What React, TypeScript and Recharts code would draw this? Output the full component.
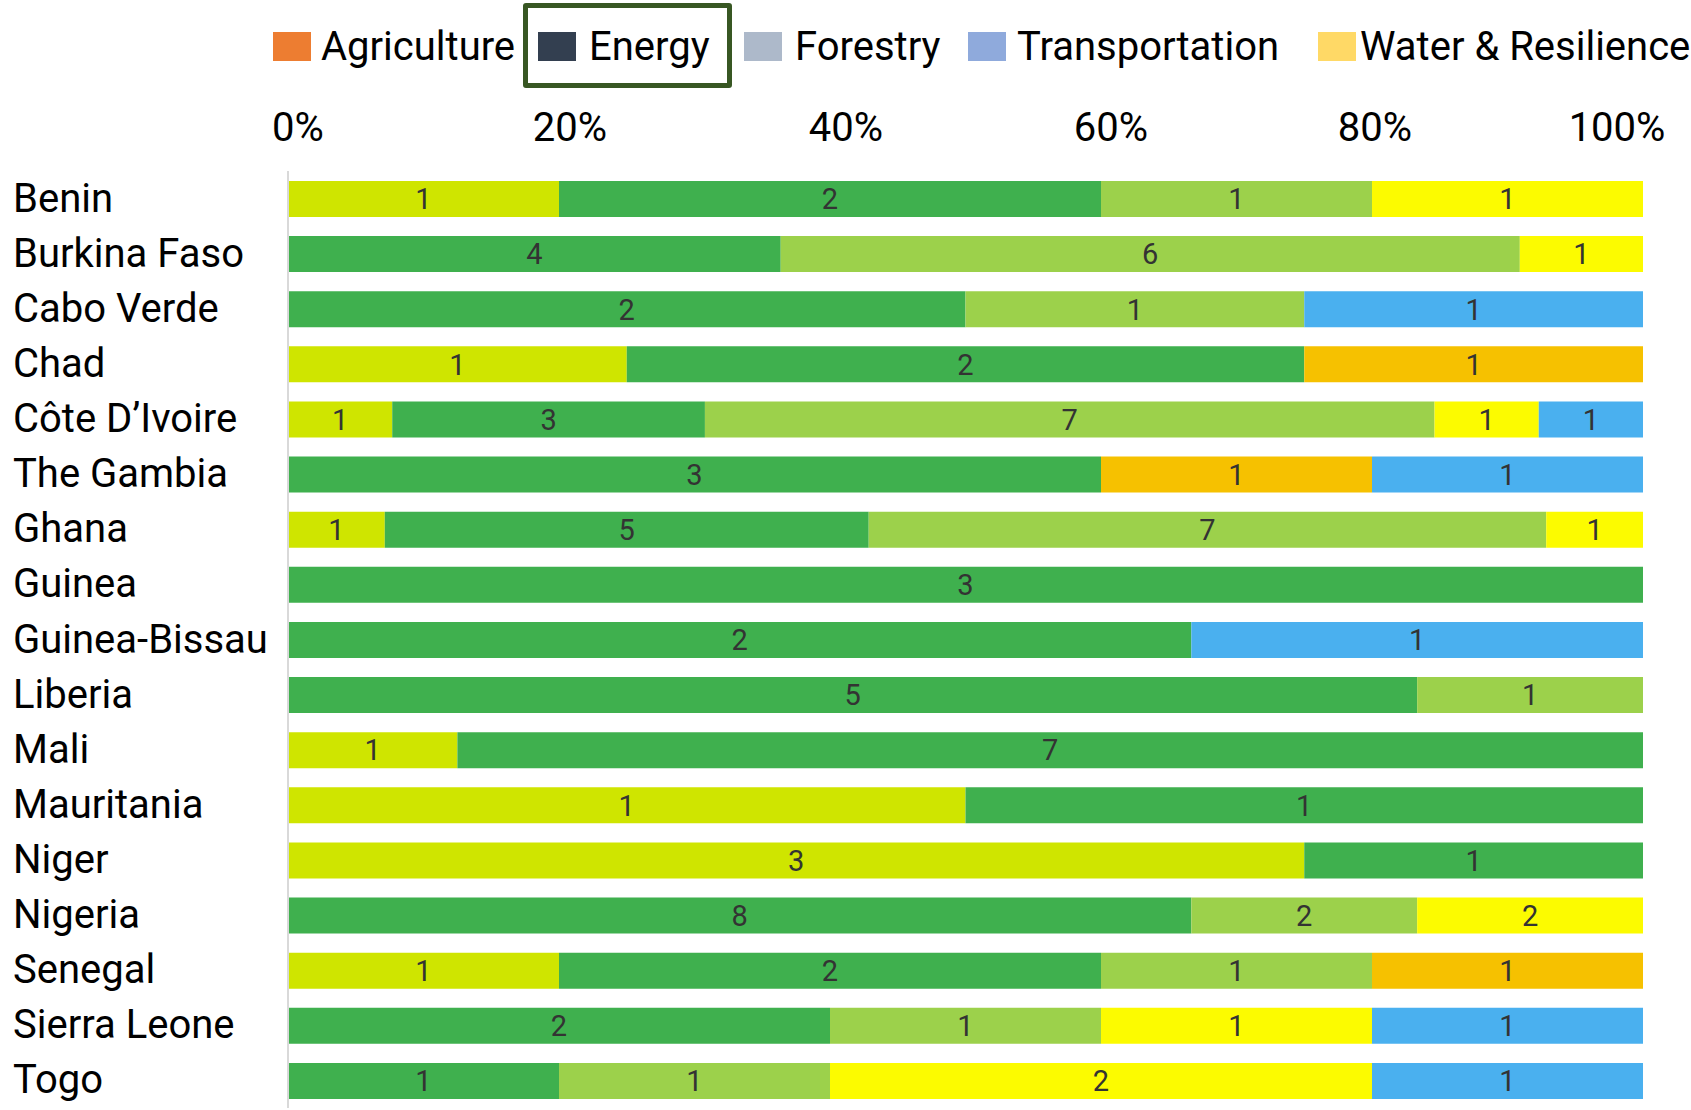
import { Bar, BarChart, LabelList, XAxis, YAxis } from 'recharts'

const countries = [
  'Benin',
  'Burkina Faso',
  'Cabo Verde',
  'Chad',
  'Côte D’Ivoire',
  'The Gambia',
  'Ghana',
  'Guinea',
  'Guinea-Bissau',
  'Liberia',
  'Mali',
  'Mauritania',
  'Niger',
  'Nigeria',
  'Senegal',
  'Sierra Leone',
  'Togo',
]

// project counts per country, one array per bar colour (left to right)
const limeCounts = [1, 0, 0, 1, 1, 0, 1, 0, 0, 0, 1, 1, 3, 0, 1, 0, 0]
const greenCounts = [2, 4, 2, 2, 3, 3, 5, 3, 2, 5, 7, 1, 1, 8, 2, 2, 1]
const lightGreenCounts = [1, 6, 1, 0, 7, 0, 7, 0, 0, 1, 0, 0, 0, 2, 1, 1, 1]
const yellowCounts = [1, 1, 0, 0, 1, 0, 1, 0, 0, 0, 0, 0, 0, 2, 0, 1, 2]
const orangeCounts = [0, 0, 0, 1, 0, 1, 0, 0, 0, 0, 0, 0, 0, 0, 1, 0, 0]
const blueCounts = [0, 0, 1, 0, 1, 1, 0, 0, 1, 0, 0, 0, 0, 0, 0, 1, 1]

const xTicks = [0, 0.2, 0.4, 0.6, 0.8, 1]

const legendItems = [
  { name: 'Agriculture', color: '#ed7d31' },
  { name: 'Energy', color: '#333f50' },
  { name: 'Forestry', color: '#adb9ca' },
  { name: 'Transportation', color: '#8faadc' },
  { name: 'Water & Resilience', color: '#ffd966' },
]

const series = [
  { key: 'lime', color: '#cfe500' },
  { key: 'green', color: '#3fb04e' },
  { key: 'lightGreen', color: '#9cd14b' },
  { key: 'yellow', color: '#fcfb00' },
  { key: 'orange', color: '#f6c100' },
  { key: 'blue', color: '#4ab0ef' },
]

const data = countries.map((country, i) => ({
  country,
  lime: limeCounts[i],
  green: greenCounts[i],
  lightGreen: lightGreenCounts[i],
  yellow: yellowCounts[i],
  orange: orangeCounts[i],
  blue: blueCounts[i],
}))

const FONT = 'Roboto, "Noto Sans", sans-serif'

// legend layout as in the source slide
const legendPos = [
  { swatch: 273, text: 321 },
  { swatch: 538, text: 589 },
  { swatch: 744, text: 795 },
  { swatch: 968, text: 1017 },
  { swatch: 1318, text: 1360 },
]

// the slide's percent labels sit a bit off their ticks
const tickShift = [10, 11, 16, 10, 3, -26]

function TopLegend() {
  return (
    <div style={{ position: 'absolute', left: 0, top: 0, width: 1691, height: 90, fontFamily: FONT }}>
      <div
        style={{
          position: 'absolute',
          left: 523,
          top: 3,
          width: 199,
          height: 75,
          border: '5px solid #385723',
          borderRadius: 3,
        }}
      />
      {legendItems.map((item, i) => (
        <div key={item.name}>
          <div
            style={{
              position: 'absolute',
              left: legendPos[i].swatch,
              top: 32,
              width: 38,
              height: 29,
              background: item.color,
            }}
          />
          <div
            style={{
              position: 'absolute',
              left: legendPos[i].text,
              top: 22,
              fontSize: 40,
              lineHeight: '50px',
              color: '#000',
              whiteSpace: 'nowrap',
            }}
          >
            {item.name}
          </div>
        </div>
      ))}
    </div>
  )
}

function PercentTick({ x, y, payload, index }: any) {
  return (
    <text
      x={x + (tickShift[index] ?? 0)}
      y={y}
      fontSize={40}
      fontFamily={FONT}
      fill="#000"
      textAnchor="middle"
    >
      {`${Math.round(payload.value * 100)}%`}
    </text>
  )
}

function CountryTick({ y, payload }: any) {
  return (
    <text x={13} y={y} dy={13} fontSize={40} fontFamily={FONT} fill="#000" textAnchor="start">
      {payload.value}
    </text>
  )
}

export default function App() {
  return (
    <div style={{ position: 'absolute', left: 0, top: 0, width: 1691, height: 1110, background: '#fff' }}>
      <BarChart
        width={1691}
        height={1110}
        data={data}
        layout="vertical"
        stackOffset="expand"
        barSize={36}
        margin={{ top: 0, right: 48, bottom: 2, left: 0 }}
      >
        <XAxis
          type="number"
          orientation="top"
          domain={[0, 1]}
          ticks={xTicks}
          height={171}
          axisLine={false}
          tickLine={false}
          tickMargin={24}
          tick={<PercentTick />}
        />
        <YAxis
          type="category"
          dataKey="country"
          width={288}
          axisLine={{ stroke: '#d9d9d9', strokeWidth: 2 }}
          tickLine={false}
          interval={0}
          tick={<CountryTick />}
        />
        {series.map((s) => (
          <Bar key={s.key} dataKey={s.key} stackId="a" fill={s.color} isAnimationActive={false}>
            <LabelList
              dataKey={s.key}
              position="center"
              formatter={(v: any) => (v ? v : '')}
              style={{ fontSize: 29, fontFamily: FONT, fill: '#333' }}
            />
          </Bar>
        ))}
      </BarChart>
      <TopLegend />
    </div>
  )
}
